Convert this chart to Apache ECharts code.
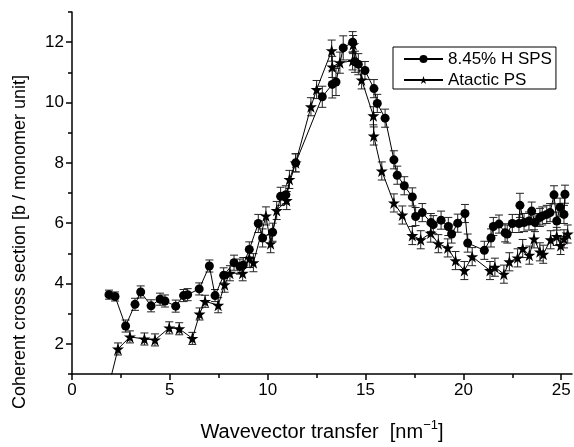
<!DOCTYPE html>
<html><head><meta charset="utf-8">
<script src="https://cdn.jsdelivr.net/npm/echarts@6/dist/echarts.min.js"></script>
<style>html,body{margin:0;padding:0;background:#fff}#c{width:574px;height:447px}</style>
</head><body><div id="c"></div>
<script>
// ---- data ----
const spsName = '8.45% H SPS';
const psName = 'Atactic PS';
const spsX = [1.89,2.2,2.74,3.22,3.51,4.04,4.5,4.75,5.3,5.7,5.91,6.5,7.02,7.31,7.75,8.28,8.58,8.75,9.06,9.52,9.74,10.25,10.66,10.93,11.43,12.79,13.3,13.49,13.86,14.34,14.46,14.63,14.97,15.43,15.6,16.0,16.45,16.62,16.98,17.39,17.56,17.9,18.34,18.46,18.86,19.23,19.4,19.71,20.08,20.22,21.07,21.41,21.53,21.82,22.13,22.24,22.5,22.84,22.89,23.1,23.35,23.49,23.66,23.91,24.03,24.26,24.43,24.63,24.77,24.94,25.14,25.19];
const spsY = [3.63,3.57,2.59,3.31,3.72,3.26,3.48,3.42,3.25,3.6,3.63,3.82,4.58,3.6,4.27,4.69,4.56,4.61,5.13,5.99,5.51,5.70,6.89,6.94,8.0,10.19,10.6,10.68,11.81,12.0,11.35,11.27,11.06,10.46,9.97,9.48,8.10,7.59,7.24,6.87,6.22,6.35,6.02,5.95,6.10,5.89,5.64,6.0,6.32,5.34,5.1,5.51,5.89,5.97,5.68,5.64,5.99,5.99,6.59,6.02,6.07,6.4,6.02,6.19,6.24,6.29,6.35,6.94,6.07,6.53,6.29,6.96];
const spsErr = [0.15,0.15,0.2,0.2,0.2,0.2,0.2,0.2,0.2,0.2,0.2,0.2,0.2,0.2,0.25,0.25,0.25,0.25,0.25,0.3,0.3,0.3,0.3,0.3,0.3,0.35,0.45,0.45,0.4,0.35,0.35,0.35,0.3,0.3,0.3,0.3,0.3,0.3,0.3,0.3,0.3,0.3,0.3,0.3,0.3,0.3,0.3,0.3,0.3,0.3,0.3,0.3,0.3,0.3,0.3,0.3,0.3,0.3,0.4,0.3,0.3,0.3,0.3,0.3,0.3,0.3,0.3,0.3,0.3,0.3,0.3,0.3];
const psX = [1.89,2.35,2.96,3.7,4.24,4.97,5.48,6.15,6.52,6.8,7.47,7.8,8.07,8.72,9.06,9.27,9.91,10.15,10.46,10.97,11.11,11.43,12.21,12.5,13.27,13.3,13.69,14.34,14.37,14.8,15.4,15.42,15.83,16.45,16.88,17.39,17.82,18.33,18.72,19.2,19.6,20.05,20.45,21.36,21.61,22.07,22.35,22.77,23.03,23.37,23.61,23.91,24.08,24.46,24.77,24.97,25.14,25.33];
const psY = [0.63,1.83,2.23,2.16,2.13,2.53,2.5,2.18,2.99,3.41,3.28,3.96,4.34,4.34,4.83,4.69,6.24,5.32,6.42,6.75,7.45,8.0,9.86,10.43,11.72,11.18,11.32,11.38,11.92,10.75,9.56,8.89,7.73,6.67,6.27,5.59,5.45,5.67,5.32,5.18,4.76,4.43,4.89,4.43,4.54,4.31,4.72,4.85,5.16,4.94,5.48,5.05,4.97,5.45,5.56,5.26,5.48,5.64];
const psErr = [0.2,0.2,0.2,0.2,0.2,0.2,0.2,0.2,0.2,0.2,0.25,0.25,0.25,0.25,0.3,0.3,0.3,0.3,0.3,0.3,0.3,0.3,0.3,0.3,0.35,0.35,0.35,0.3,0.3,0.3,0.3,0.3,0.3,0.3,0.3,0.3,0.3,0.3,0.3,0.3,0.3,0.3,0.3,0.3,0.3,0.3,0.3,0.3,0.3,0.3,0.3,0.3,0.3,0.3,0.3,0.3,0.3,0.3];
const xMajor = [0,5,10,15,20,25];
const xMinor = [2.5,7.5,12.5,17.5,22.5];
const yMajor = [2,4,6,8,10,12];
const yMinor = [1,3,5,7,9,11,13];
const xTitle = 'Wavevector transfer  [nm{sup|\u22121}]';
const yTitle = 'Coherent cross section [b / monomer unit]';

const FONT = 'Liberation Sans, Arial, sans-serif';
const starPath = 'path://M50,0 L61.8,35.4 L99,35.4 L69,57.3 L80.4,92.7 L50,70.8 L19.6,92.7 L31,57.3 L1,35.4 L38.2,35.4 Z';

const zip = (xs, ys) => xs.map((x, i) => [x, ys[i]]);
const zip3 = (xs, ys, es) => xs.map((x, i) => [x, ys[i], es[i]]);

function errRender(params, api) {
  const x = api.value(0), y = api.value(1), e = api.value(2);
  const t = api.coord([x, y + e]);
  const b = api.coord([x, y - e]);
  const h = 4;
  const st = { stroke: '#222', lineWidth: 1 };
  return { type: 'group', children: [
    { type: 'line', shape: { x1: t[0], y1: t[1], x2: b[0], y2: b[1] }, style: st },
    { type: 'line', shape: { x1: t[0] - h, y1: t[1], x2: t[0] + h, y2: t[1] }, style: st },
    { type: 'line', shape: { x1: b[0] - h, y1: b[1], x2: b[0] + h, y2: b[1] }, style: st }
  ]};
}

const axisLineStyle = { color: '#000', width: 1.5 };
const chart = echarts.init(document.getElementById('c'), null, { renderer: 'canvas' });
chart.setOption({
  animation: false,
  backgroundColor: '#fff',
  textStyle: { fontFamily: FONT },
  grid: { left: 72, right: 2, top: 12, bottom: 64 },
  xAxis: [
    { type: 'value', min: 0, max: 25.55, position: 'bottom',
      axisLine: { show: true, lineStyle: axisLineStyle },
      axisTick: { show: true, customValues: xMajor, length: 6, inside: false, lineStyle: { color: '#000', width: 1.5 } },
      axisLabel: { customValues: xMajor, color: '#000', fontSize: 17, fontFamily: FONT, margin: 8 },
      splitLine: { show: false },
      name: xTitle, nameLocation: 'middle', nameGap: 45,
      nameTextStyle: { color: '#000', fontSize: 20, fontFamily: FONT,
        rich: { sup: { fontSize: 13, fontFamily: FONT, color: '#000', padding: [0, 0, 13, 0] } } } },
    { type: 'value', min: 0, max: 25.55, position: 'bottom',
      axisLine: { show: false },
      axisTick: { show: true, customValues: xMinor, length: 4, lineStyle: { color: '#000', width: 1.5 } },
      axisLabel: { show: false }, splitLine: { show: false } }
  ],
  yAxis: [
    { type: 'value', min: 1, max: 13, position: 'left',
      axisLine: { show: true, lineStyle: axisLineStyle },
      axisTick: { show: true, customValues: yMajor, length: 6, lineStyle: { color: '#000', width: 1.5 } },
      axisLabel: { customValues: yMajor, color: '#000', fontSize: 17, fontFamily: FONT, margin: 8 },
      splitLine: { show: false } },
    { type: 'value', min: 1, max: 13, position: 'left',
      axisLine: { show: false },
      axisTick: { show: true, customValues: yMinor, length: 4, lineStyle: { color: '#000', width: 1.5 } },
      axisLabel: { show: false }, splitLine: { show: false } }
  ],
  legend: {
    orient: 'vertical', left: 393, top: 47,
    borderColor: '#000', borderWidth: 1, padding: [3, 4, 0, 10], itemGap: 3,
    itemWidth: 39, itemHeight: 10,
    textStyle: { color: '#000', fontSize: 17, fontFamily: FONT, lineHeight: 18 },
    data: [spsName, psName]
  },
  graphic: [{
    type: 'text', x: 20, y: 242, rotation: Math.PI / 2,
    style: { text: yTitle, fill: '#000', font: '18px ' + FONT, align: 'center', verticalAlign: 'middle' }
  }],
  series: [
    { type: 'custom', name: 'errSPS', renderItem: errRender, data: zip3(spsX, spsY, spsErr),
      xAxisIndex: 0, yAxisIndex: 0, clip: true, z: 1, silent: true },
    { type: 'custom', name: 'errPS', renderItem: errRender, data: zip3(psX, psY, psErr),
      xAxisIndex: 0, yAxisIndex: 0, clip: true, z: 1, silent: true },
    { type: 'line', name: spsName, data: zip(spsX, spsY), xAxisIndex: 0, yAxisIndex: 0,
      symbol: 'circle', symbolSize: 9, showAllSymbol: true, clip: true, z: 3,
      itemStyle: { color: '#000' }, lineStyle: { color: '#000', width: 1 } },
    { type: 'line', name: psName, data: zip(psX, psY), xAxisIndex: 0, yAxisIndex: 0,
      symbol: starPath, symbolSize: 12, showAllSymbol: true, clip: true, z: 3,
      itemStyle: { color: '#000' }, lineStyle: { color: '#000', width: 1 } }
  ]
});
</script></body></html>
